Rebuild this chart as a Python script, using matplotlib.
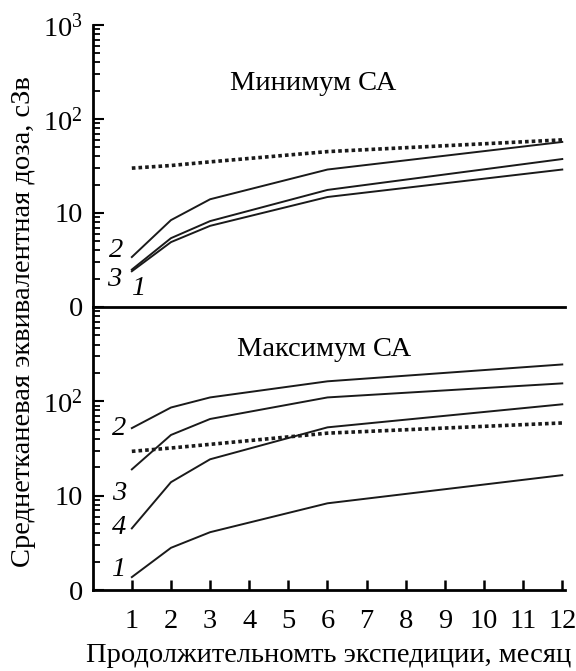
import matplotlib
matplotlib.use("Agg")
import matplotlib.pyplot as plt
from matplotlib.ticker import FixedLocator, FixedFormatter, LogLocator, NullFormatter

plt.rcParams['font.family'] = ['Liberation Serif', 'DejaVu Serif']
plt.rcParams['mathtext.fontset'] = 'custom'
plt.rcParams['mathtext.rm'] = 'Liberation Serif'
plt.rcParams['mathtext.it'] = 'Liberation Serif:italic'

months = [1, 2, 3, 6, 12]

# Minimum of solar activity (top panel)
min_limit = [30, 32, 35, 45, 60]
min_curve2 = [3.4, 8.4, 14, 29, 57]
min_curve3 = [2.5, 5.4, 8.2, 17.6, 37.5]
min_curve1 = [2.4, 4.9, 7.3, 14.8, 29]

# Maximum of solar activity (bottom panel)
max_limit = [29.5, 32, 35, 46, 59]
max_curve2 = [52, 86, 110, 163, 246]
max_curve3 = [19, 44, 65, 110, 155]
max_curve4 = [4.5, 13.9, 24.3, 53, 93]
max_curve1 = [1.37, 2.8, 4.1, 8.3, 16.5]

xticks = list(range(1, 13))
top_yticks = [1, 10, 100, 1000]
top_ylabels = ['0', '10', r'$10^2$', r'$10^3$']
bot_yticks = [1, 10, 100]
bot_ylabels = ['0', '10', r'$10^2$']

W, H = 576, 671
fig = plt.figure(figsize=(W / 100, H / 100), dpi=100)
left = 92.7 / W
right = 565 / W
ax_top = fig.add_axes([left, 1 - 307 / H, right - left, (307 - 25) / H])
ax_bot = fig.add_axes([left, 1 - 590 / H, right - left, (590 - 307) / H])

FS = 20.5
line_kw = dict(color='#1a1a1a', lw=1.4)
dot_kw = dict(color='#1a1a1a', lw=2.6, linestyle=(0, (1, 0.85)))

ax_top.plot(months, min_limit, **dot_kw)
ax_top.plot(months, min_curve2, **line_kw)
ax_top.plot(months, min_curve3, **line_kw)
ax_top.plot(months, min_curve1, **line_kw)

ax_bot.plot(months, max_limit, **dot_kw)
ax_bot.plot(months, max_curve2, **line_kw)
ax_bot.plot(months, max_curve3, **line_kw)
ax_bot.plot(months, max_curve4, **line_kw)
ax_bot.plot(months, max_curve1, **line_kw)

for ax in (ax_top, ax_bot):
    ax.set_yscale('log')
    ax.set_ylim(1, 1000)
    ax.set_xlim(0, 12.07)
    ax.spines['top'].set_visible(False)
    ax.spines['right'].set_visible(False)
    ax.spines['left'].set_linewidth(2)
    ax.spines['bottom'].set_linewidth(2)
    ax.yaxis.set_minor_locator(LogLocator(base=10, subs=range(2, 10)))
    ax.yaxis.set_minor_formatter(NullFormatter())
    ax.tick_params(axis='y', which='major', direction='in', length=8, width=1.5,
                   labelsize=FS, pad=7)
    ax.tick_params(axis='y', which='minor', direction='in', length=5, width=1.3)
    ax.set_facecolor('none')

ax_top.yaxis.set_major_locator(FixedLocator(top_yticks))
ax_top.yaxis.set_major_formatter(FixedFormatter(top_ylabels))
ax_top.set_xticks([])
ax_top.tick_params(axis='x', which='both', length=0, labelbottom=False)

ax_bot.yaxis.set_major_locator(FixedLocator(bot_yticks))
ax_bot.yaxis.set_major_formatter(FixedFormatter(bot_ylabels))
ax_bot.set_xticks(xticks)
ax_bot.set_xticklabels([str(v) for v in xticks])
ax_bot.tick_params(axis='x', direction='in', length=7, width=1.8, labelsize=FS, pad=14)

# Titles inside panels
ax_top.text(5.64, 240, 'Минимум СА', fontsize=FS, ha='center', va='center')
ax_bot.text(5.92, 355, 'Максимум СА', fontsize=FS, ha='center', va='center')

# Curve labels
lab_kw = dict(fontsize=FS, style='italic', ha='center', va='center')
ax_top.text(0.59, 4.0, '2', **lab_kw)
ax_top.text(0.54, 1.94, '3', **lab_kw)
ax_top.text(1.18, 1.59, '1', **lab_kw)
ax_bot.text(0.67, 51, '2', **lab_kw)
ax_bot.text(0.67, 10.6, '3', **lab_kw)
ax_bot.text(0.67, 4.6, '4', **lab_kw)
ax_bot.text(0.67, 1.63, '1', **lab_kw)

fig.text(329 / W, 1 - 656 / H, 'Продолжительномть экспедиции, месяц',
         fontsize=FS, ha='center', va='center')
fig.text(24 / W, 1 - 322 / H, 'Среднетканевая эквивалентная доза, сЗв',
         fontsize=FS, ha='center', va='center', rotation=90)

fig.savefig('out.png', dpi=100)
